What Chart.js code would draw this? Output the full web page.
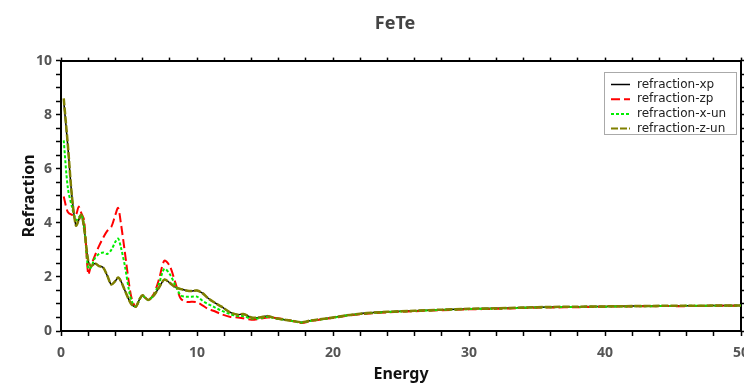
<!DOCTYPE html>
<html>
<head>
<meta charset="utf-8">
<script src="https://cdn.jsdelivr.net/npm/chart.js@4/dist/chart.umd.min.js"></script>
<style>
  html, body { margin: 0; padding: 0; background: #fff; overflow: hidden; }
  #wrap { width: 744px; height: 385px; overflow: hidden; }
</style>
</head>
<body>
<div id="wrap"><canvas id="chart" width="790" height="385"></canvas></div>
<script>
const energy = [0.2, 0.5, 0.8, 1.1, 1.3, 1.5, 1.7, 2.0, 2.2, 2.5, 2.8, 3.1, 3.4, 3.7, 4.0, 4.2, 4.4, 4.7, 5.0, 5.2,
    5.5, 5.8, 6.0, 6.4, 6.8, 7.2, 7.6, 8.0, 8.4, 8.8, 9.2, 9.6, 10.0, 10.4, 10.8, 11.2, 11.8, 12.4, 13.0, 13.4,
    14.0, 14.6, 15.2, 15.8, 16.4, 17.0, 17.7, 18.3, 19.0, 20, 21, 22, 23, 24, 26, 28, 30, 32, 34, 36,
    38, 40, 42, 44, 46, 48, 50];

const refractionXp = [8.5, 6.85, 5.0, 3.9, 4.1, 4.3, 3.8, 2.6, 2.4, 2.5, 2.4, 2.35, 2.05, 1.72, 1.85, 1.98, 1.85, 1.5, 1.15, 0.98,
    0.9, 1.2, 1.32, 1.15, 1.3, 1.6, 1.9, 1.78, 1.62, 1.55, 1.5, 1.48, 1.5, 1.4, 1.22, 1.08, 0.9, 0.7, 0.6, 0.63,
    0.5, 0.5, 0.55, 0.47, 0.42, 0.38, 0.32, 0.38, 0.43, 0.5, 0.58, 0.64, 0.68, 0.71, 0.75, 0.79, 0.82, 0.84, 0.87, 0.89,
    0.9, 0.91, 0.92, 0.93, 0.93, 0.94, 0.94];

const refractionZp = [4.97, 4.4, 4.3, 4.3, 4.6, 4.35, 4.1, 2.1, 2.4, 2.8, 3.15, 3.45, 3.7, 3.85, 4.3, 4.55, 4.0, 2.9, 1.75, 1.2,
    0.9, 1.2, 1.3, 1.15, 1.35, 1.9, 2.6, 2.4, 1.8, 1.2, 1.08, 1.08, 1.06, 0.95, 0.82, 0.75, 0.62, 0.53, 0.5, 0.47,
    0.42, 0.45, 0.5, 0.48, 0.44, 0.37, 0.3, 0.36, 0.42, 0.48, 0.56, 0.62, 0.66, 0.69, 0.73, 0.77, 0.8, 0.82, 0.85, 0.87,
    0.88, 0.9, 0.91, 0.92, 0.92, 0.93, 0.93];

const refractionXun = [7.05, 5.3, 4.6, 4.1, 4.2, 4.3, 3.9, 2.3, 2.35, 2.7, 2.85, 2.9, 2.85, 3.0, 3.3, 3.42, 3.1, 2.4, 1.5, 1.1,
    0.9, 1.2, 1.3, 1.15, 1.32, 1.75, 2.3, 2.1, 1.7, 1.32, 1.27, 1.27, 1.27, 1.12, 1.0, 0.9, 0.75, 0.63, 0.55, 0.55,
    0.46, 0.47, 0.52, 0.46, 0.42, 0.37, 0.31, 0.37, 0.42, 0.49, 0.57, 0.63, 0.67, 0.7, 0.74, 0.78, 0.81, 0.83, 0.86, 0.88,
    0.89, 0.9, 0.91, 0.92, 0.93, 0.93, 0.94];

const refractionZun = [8.6, 6.9, 5.0, 3.9, 4.1, 4.3, 3.8, 2.6, 2.4, 2.5, 2.4, 2.35, 2.05, 1.72, 1.85, 1.98, 1.85, 1.5, 1.15, 0.98,
    0.9, 1.2, 1.32, 1.15, 1.3, 1.6, 1.9, 1.78, 1.62, 1.55, 1.5, 1.48, 1.5, 1.4, 1.22, 1.08, 0.9, 0.7, 0.6, 0.63,
    0.5, 0.5, 0.55, 0.47, 0.42, 0.38, 0.32, 0.38, 0.43, 0.5, 0.58, 0.64, 0.68, 0.71, 0.75, 0.79, 0.82, 0.84, 0.87, 0.89,
    0.9, 0.91, 0.92, 0.93, 0.93, 0.94, 0.94];

const seriesNames = ['refraction-xp', 'refraction-zp', 'refraction-x-un', 'refraction-z-un'];

const toPoints = (vals) => vals.map((v, i) => ({ x: energy[i], y: v }));

function makeSet(label, vals, color, dash, width, order) {
    return {
        label: label,
        data: toPoints(vals),
        borderColor: color,
        backgroundColor: color,
        borderDash: dash,
        borderWidth: width,
        pointRadius: 0,
        tension: 0.3,
        fill: false,
        order: order
    };
}

// legend drawn inside the plot, top right
const boxLegend = {
    id: 'boxLegend',
    afterDraw(chart) {
        const ctx = chart.ctx;
        const left = 604, top = 72, w = 132, h = 62;
        ctx.save();
        ctx.fillStyle = '#fff';
        ctx.fillRect(left, top, w, h);
        ctx.strokeStyle = '#aaaaaa';
        ctx.lineWidth = 1;
        ctx.strokeRect(left + 0.5, top + 0.5, w, h);
        ctx.font = '12px "DejaVu Sans"';
        ctx.textBaseline = 'middle';
        chart.data.datasets.forEach((ds, i) => {
            const y = top + 12.5 + i * 14.7;
            ctx.beginPath();
            ctx.strokeStyle = ds.borderColor;
            ctx.lineWidth = Math.min(ds.borderWidth, 2);
            ctx.setLineDash(ds.borderDash);
            ctx.moveTo(left + 7, y);
            ctx.lineTo(left + 26, y);
            ctx.stroke();
            ctx.setLineDash([]);
            ctx.fillStyle = '#222';
            ctx.fillText(ds.label, left + 33, y);
        });
        ctx.restore();
    }
};

// the y scale is kept narrow so the title sits centred; widen its box
// again after layout so the tick labels and axis title are not clipped
const widenYAxis = {
    id: 'widenYAxis',
    afterLayout(chart) {
        const y = chart.scales.y;
        y.left = 16;
        y.width = y.right - y.left;
    }
};

const tickFont = { family: '"Noto Sans"', size: 14, weight: 'bold' };
const titleFont = { family: '"Noto Sans"', size: 16, weight: 'bold' };

new Chart(document.getElementById('chart'), {
    type: 'line',
    data: {
        datasets: [
            makeSet(seriesNames[0], refractionXp, '#000000', [], 1.5, 4),
            makeSet(seriesNames[1], refractionZp, '#ff0000', [9, 4], 2, 3),
            makeSet(seriesNames[2], refractionXun, '#00ee00', [3, 2], 2, 2),
            makeSet(seriesNames[3], refractionZun, '#808000', [7, 2], 2.5, 1)
        ]
    },
    plugins: [boxLegend, widenYAxis],
    options: {
        responsive: false,
        animation: false,
        layout: { padding: { top: 7, left: 46, right: 46, bottom: 1 } },
        plugins: {
            legend: { display: false },
            tooltip: { enabled: false },
            title: {
                display: true,
                text: 'FeTe',
                color: '#444',
                font: { family: '"Noto Sans"', size: 18, weight: 'bold' },
                padding: { top: 6, bottom: 23 }
            }
        },
        scales: {
            x: {
                type: 'linear',
                min: 0,
                max: 50,
                afterFit: (scale) => { scale.height = 53; },
                border: { display: true, color: '#000', width: 2 },
                grid: { drawOnChartArea: false, color: '#000', tickLength: 5, tickWidth: 1.5 },
                ticks: {
                    stepSize: 2,
                    autoSkip: false,
                    maxRotation: 0,
                    color: '#555',
                    font: tickFont,
                    padding: 9,
                    callback: (v) => v % 10 === 0 ? v : ''
                },
                title: { display: true, text: 'Energy', color: '#111', font: titleFont, padding: { top: 0, bottom: 0 } }
            },
            x2: {
                type: 'linear',
                position: 'top',
                min: 0,
                max: 50,
                border: { display: true, color: '#000', width: 2 },
                grid: { drawOnChartArea: false, color: '#000', tickLength: 3, tickWidth: 1.5 },
                ticks: { stepSize: 2, display: false }
            },
            y: {
                min: 0,
                max: 10,
                afterFit: (scale) => { scale.width = 15; },
                border: { display: true, color: '#000', width: 2 },
                grid: { drawOnChartArea: false, color: '#000', tickLength: 5, tickWidth: 1.5 },
                ticks: {
                    stepSize: 0.5,
                    autoSkip: false,
                    color: '#555',
                    font: tickFont,
                    padding: 4,
                    callback: (v) => v % 2 === 0 ? v : ''
                },
                title: { display: true, text: 'Refraction', color: '#111', font: titleFont, padding: { top: 4, bottom: 0 } }
            },
            y2: {
                position: 'right',
                min: 0,
                max: 10,
                border: { display: true, color: '#000', width: 2 },
                grid: { drawOnChartArea: false, color: '#000', tickLength: 3, tickWidth: 1.5 },
                ticks: { stepSize: 0.5, display: false }
            }
        }
    }
});
</script>
</body>
</html>
